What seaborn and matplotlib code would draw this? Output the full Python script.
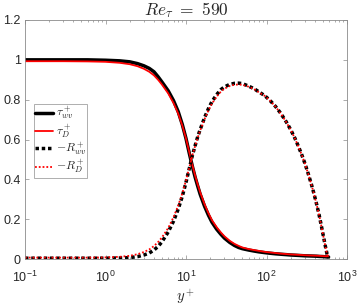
import pandas as pd
import matplotlib
matplotlib.use("Agg")
import matplotlib.pyplot as plt
import seaborn as sns
from matplotlib.font_manager import FontProperties
from matplotlib.ticker import LogLocator, NullFormatter

# data
yplus = [0.1, 0.3, 0.6, 1, 1.5, 2, 2.5, 3, 3.5, 4, 4.5, 5, 6, 7, 8, 9, 10, 11, 12, 13,
         14, 15, 17, 19, 21, 24, 27, 30, 35, 40, 45, 50, 60, 70, 80, 95, 110, 130, 150,
         175, 200, 225, 250, 275, 300, 330, 360, 390, 420, 450, 480, 510, 540, 565, 590]
tau_wv = [1.0, 1.0, 1.0, 0.998, 0.995, 0.99, 0.981, 0.97, 0.957, 0.94, 0.915, 0.89,
          0.845, 0.795, 0.74, 0.675, 0.605, 0.53, 0.465, 0.41, 0.365, 0.325, 0.265,
          0.22, 0.185, 0.15, 0.125, 0.105, 0.083, 0.068, 0.058, 0.052, 0.045, 0.04,
          0.036, 0.032, 0.029, 0.026, 0.024, 0.022, 0.02, 0.019, 0.018, 0.017, 0.016,
          0.0155, 0.015, 0.0145, 0.014, 0.013, 0.0125, 0.012, 0.011, 0.0105, 0.01]
tau_D = [0.993, 0.993, 0.992, 0.99, 0.985, 0.978, 0.968, 0.955, 0.94, 0.922, 0.9, 0.877,
         0.832, 0.783, 0.73, 0.67, 0.605, 0.535, 0.472, 0.418, 0.373, 0.335, 0.275,
         0.23, 0.195, 0.16, 0.134, 0.114, 0.091, 0.076, 0.066, 0.058, 0.05, 0.045,
         0.041, 0.036, 0.033, 0.03, 0.027, 0.025, 0.023, 0.022, 0.021, 0.02, 0.019,
         0.018, 0.0175, 0.017, 0.0165, 0.016, 0.015, 0.0145, 0.014, 0.013, 0.012]
R_wv = [0.004, 0.004, 0.004, 0.004, 0.005, 0.007, 0.012, 0.02, 0.03, 0.045, 0.063, 0.085,
        0.135, 0.19, 0.25, 0.315, 0.385, 0.455, 0.52, 0.57, 0.615, 0.65, 0.71, 0.755,
        0.79, 0.825, 0.85, 0.864, 0.877, 0.882, 0.883, 0.881, 0.868, 0.855, 0.84,
        0.82, 0.797, 0.765, 0.732, 0.69, 0.649, 0.607, 0.564, 0.522, 0.48, 0.428,
        0.377, 0.326, 0.274, 0.222, 0.167, 0.113, 0.062, 0.025, 0.006]
R_D = [0.007, 0.007, 0.007, 0.008, 0.011, 0.016, 0.024, 0.035, 0.048, 0.065, 0.085, 0.107,
       0.155, 0.21, 0.268, 0.33, 0.395, 0.46, 0.52, 0.568, 0.61, 0.645, 0.702, 0.746,
       0.78, 0.815, 0.84, 0.855, 0.869, 0.875, 0.876, 0.875, 0.865, 0.853, 0.838,
       0.819, 0.796, 0.764, 0.731, 0.689, 0.648, 0.606, 0.563, 0.521, 0.479, 0.427,
       0.376, 0.325, 0.273, 0.221, 0.166, 0.112, 0.061, 0.025, 0.007]

df = pd.DataFrame({"yplus": yplus, "tau_wv": tau_wv, "tau_D": tau_D,
                   "R_wv": R_wv, "R_D": R_D})

sns.set_style("ticks")
plt.rcParams["font.family"] = ["Liberation Sans", "DejaVu Sans"]
plt.rcParams["mathtext.fontset"] = "custom"
plt.rcParams["mathtext.rm"] = "Liberation Sans"
plt.rcParams["mathtext.it"] = "Liberation Sans:italic"
plt.rcParams["mathtext.bf"] = "Liberation Sans:bold"

fig = plt.figure(figsize=(3.59, 3.05), dpi=100)
ax = fig.add_axes([25 / 359, 1 - 259 / 305, 322 / 359, 239 / 305])
ax.set_xscale("log")

sns.lineplot(data=df, x="yplus", y="tau_wv", ax=ax, color="black", linewidth=2.5,
             label=r"$\tau_{wv}^+$")
sns.lineplot(data=df, x="yplus", y="tau_D", ax=ax, color="red", linewidth=1.3,
             label=r"$\tau_D^+$")
sns.lineplot(data=df, x="yplus", y="R_wv", ax=ax, color="black", linewidth=2.5,
             dashes=False, label=r"$-R_{wv}^+$").lines[-1].set_dashes((1, 0.8))
sns.lineplot(data=df, x="yplus", y="R_D", ax=ax, color="red", linewidth=1.3,
             dashes=False, label=r"$-R_D^+$").lines[-1].set_dashes((1, 1.1))

ax.set_xlim(0.1, 1000)
ax.set_ylim(0, 1.2)
ax.set_yticks([0, 0.2, 0.4, 0.6, 0.8, 1.0, 1.2])
ax.set_yticklabels(["0", "0.2", "0.4", "0.6", "0.8", "1", "1.2"])
ax.xaxis.set_minor_locator(LogLocator(base=10, subs=range(2, 10), numticks=20))
ax.xaxis.set_minor_formatter(NullFormatter())

gray = "#8a8a8a"
for s in ax.spines.values():
    s.set_visible(True)
    s.set_color(gray)
    s.set_linewidth(0.6)
ax.tick_params(which="both", direction="in", top=True, right=True, color=gray,
               labelcolor="#262626", labelsize=9)
ax.tick_params(which="major", length=3, width=0.5)
ax.tick_params(which="minor", length=1.6, width=0.5)
ax.tick_params(axis="x", pad=8)
ax.tick_params(axis="y", pad=3)

ax.set_title(r"$Re_\tau\ =\ 590$", fontsize=12.5, math_fontfamily="cm", pad=2)
ax.set_xlabel(r"$y^+$", fontsize=10.5, math_fontfamily="cm", labelpad=1)
ax.set_ylabel("")

leg = ax.legend(loc="upper left", bbox_to_anchor=(0.028, 0.65),
                prop=FontProperties(size=8.5, math_fontfamily="cm"),
                handlelength=1.5, handletextpad=0.2, borderpad=0.12,
                labelspacing=0.0, fancybox=False, frameon=True,
                borderaxespad=0)
leg.get_frame().set_edgecolor(gray)
leg.get_frame().set_linewidth(0.6)

fig.savefig("out.png", dpi=100)
